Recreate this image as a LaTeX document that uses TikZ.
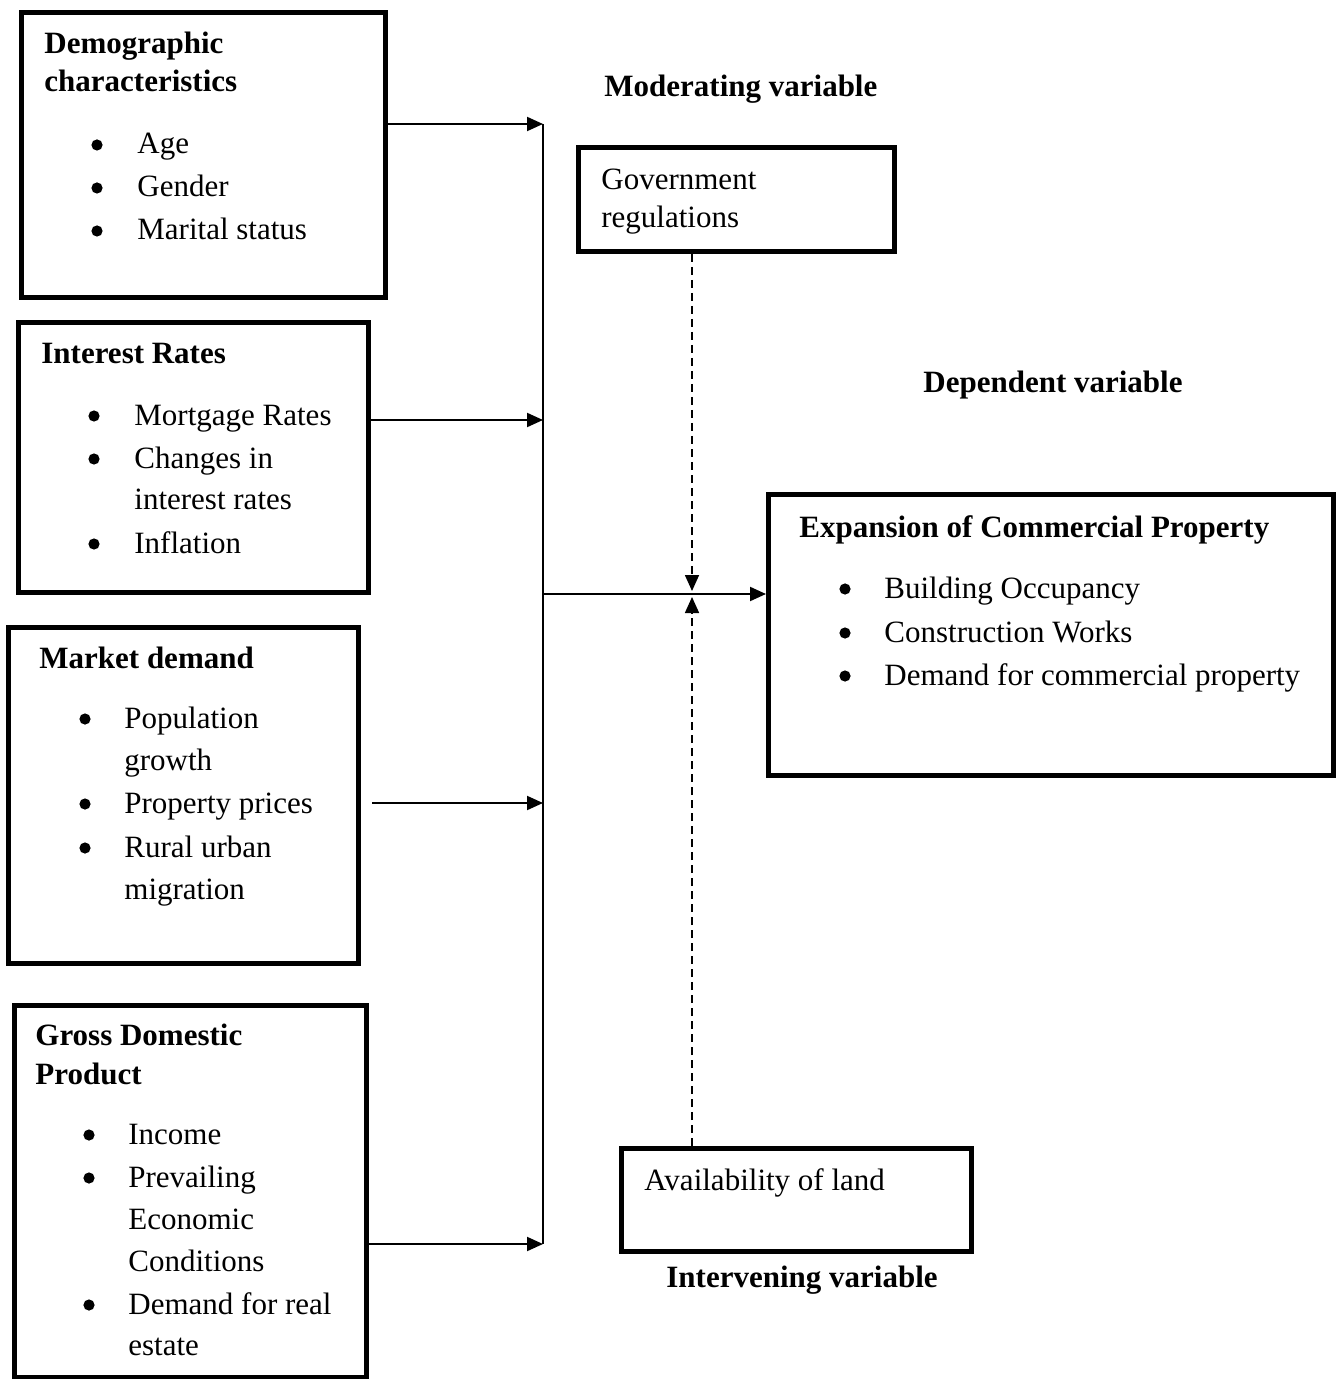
\documentclass[tikz,border=0pt]{standalone}
\usepackage{fontspec}
\setmainfont{Liberation Serif}
\usetikzlibrary{arrows.meta}
\begin{document}
\begin{tikzpicture}[x=0.5pt,y=-0.5pt,
  box/.style={draw,line width=2.5pt,minimum width=#1,inner sep=0pt},
  txt/.style={anchor=base west,inner sep=0pt,yshift=-1pt,font=\fontsize{15.5}{18}\selectfont},
  btxt/.style={txt,font=\fontsize{15.5}{18}\selectfont\bfseries},
  bul/.style={circle,fill,inner sep=0pt,minimum size=5.6pt,yshift=3.5pt},
  arr/.style={line width=1pt,-{Triangle[length=8pt,width=7pt]}},
  dsh/.style={line width=0.8pt,dash pattern=on 4pt off 2.5pt,-{Triangle[length=8pt,width=7pt]}}]
\useasboundingbox (0,0) rectangle (1340,1379);
% boxes
\node[box=182pt,minimum height=142.5pt] (demo) at (203.5,155) {};
\node[box=175pt,minimum height=135pt] (inter) at (193.5,457.5) {};
\node[box=175pt,minimum height=168pt] (market) at (183.5,795.5) {};
\node[box=176pt,minimum height=186pt] (gdp) at (190.5,1191.5) {};
\node[box=158pt,minimum height=52pt] (gov) at (736.5,199.5) {};
\node[box=282.5pt,minimum height=140.5pt] (exp) at (1051,635) {};
\node[box=175pt,minimum height=51.5pt] (avail) at (796.5,1200) {};
% texts box 1
\node[btxt] (t1a) at (44,52) {Demographic};
\node[btxt] (t1b) at (44,90) {characteristics};
\node[bul] (b1a) at (97,152) {}; \node[txt] (t1c) at (137,152) {Age};
\node[bul] (b1b) at (97,195) {}; \node[txt] (t1d) at (137,195) {Gender};
\node[bul] (b1c) at (97,238) {}; \node[txt] (t1e) at (137,238) {Marital status};
% box 2
\node[btxt] (t2a) at (41,362) {Interest Rates};
\node[bul] (b2a) at (94,423) {}; \node[txt] (t2b) at (134,423) {Mortgage Rates};
\node[bul] (b2b) at (94,466) {}; \node[txt] (t2c) at (134,466) {Changes in};
\node[txt] (t2d) at (134,507) {interest rates};
\node[bul] (b2c) at (94,551) {}; \node[txt] (t2e) at (134,551) {Inflation};
% box 3
\node[btxt] (t3a) at (39,666) {Market demand};
\node[bul] (b3a) at (85,726) {}; \node[txt] (t3b) at (124,726) {Population};
\node[txt] (t3c) at (124,768) {growth};
\node[bul] (b3b) at (85,811) {}; \node[txt] (t3d) at (124,811) {Property prices};
\node[bul] (b3c) at (85,855) {}; \node[txt] (t3e) at (124,855) {Rural urban};
\node[txt] (t3f) at (124,897) {migration};
% box 4
\node[btxt] (t4a) at (35,1043) {Gross Domestic};
\node[btxt] (t4b) at (35,1082) {Product};
\node[bul] (b4a) at (89,1142) {}; \node[txt] (t4c) at (128,1142) {Income};
\node[bul] (b4b) at (89,1185) {}; \node[txt] (t4d) at (128,1185) {Prevailing};
\node[txt] (t4e) at (128,1227) {Economic};
\node[txt] (t4f) at (128,1269) {Conditions};
\node[bul] (b4c) at (89,1312) {}; \node[txt] (t4g) at (128,1312) {Demand for real};
\node[txt] (t4h) at (128,1353) {estate};
% right side
\node[btxt] (mod) at (604,95) {Moderating variable};
\node[txt] (g1) at (601,188) {Government};
\node[txt] (g2) at (601,226) {regulations};
\node[btxt] (dep) at (923,391) {Dependent variable};
\node[btxt] (e1) at (799,535) {Expansion of Commercial Property};
\node[bul] (b5a) at (845,596) {}; \node[txt] (e2) at (884,596) {Building Occupancy};
\node[bul] (b5b) at (845,640) {}; \node[txt] (e3) at (884,640) {Construction Works};
\node[bul] (b5c) at (845,683) {}; \node[txt] (e4) at (884,683) {Demand for commercial property};
\node[txt] (a1) at (644,1188) {Availability of land};
\node[btxt] (int) at (666,1285) {Intervening variable};
% connectors
\coordinate (busTop) at (543,124);
\coordinate (busBot) at (543,1244);
\coordinate (busInt) at (543,420);
\coordinate (busMkt) at (543,803);
\coordinate (busMid) at (543,594);
\coordinate (mktStart) at (372,803);
\coordinate (gTop) at (692,255);
\coordinate (gTip) at (692,591);
\coordinate (aBot) at (692,1146);
\coordinate (aTip) at (692,597);
\draw[line width=1pt] (busTop) -- (busBot);
\draw[arr] (demo.east |- busTop) -- (busTop);
\draw[arr] (inter.east |- busInt) -- (busInt);
\draw[arr] (mktStart) -- (busMkt);
\draw[arr] (gdp.east |- busBot) -- (busBot);
\draw[arr] (busMid) -- (exp.west |- busMid);
\draw[dsh] (gov.south -| gTop) -- (gTip);
\draw[dsh] (avail.north -| aBot) -- (aTip);
\end{tikzpicture}
\end{document}
